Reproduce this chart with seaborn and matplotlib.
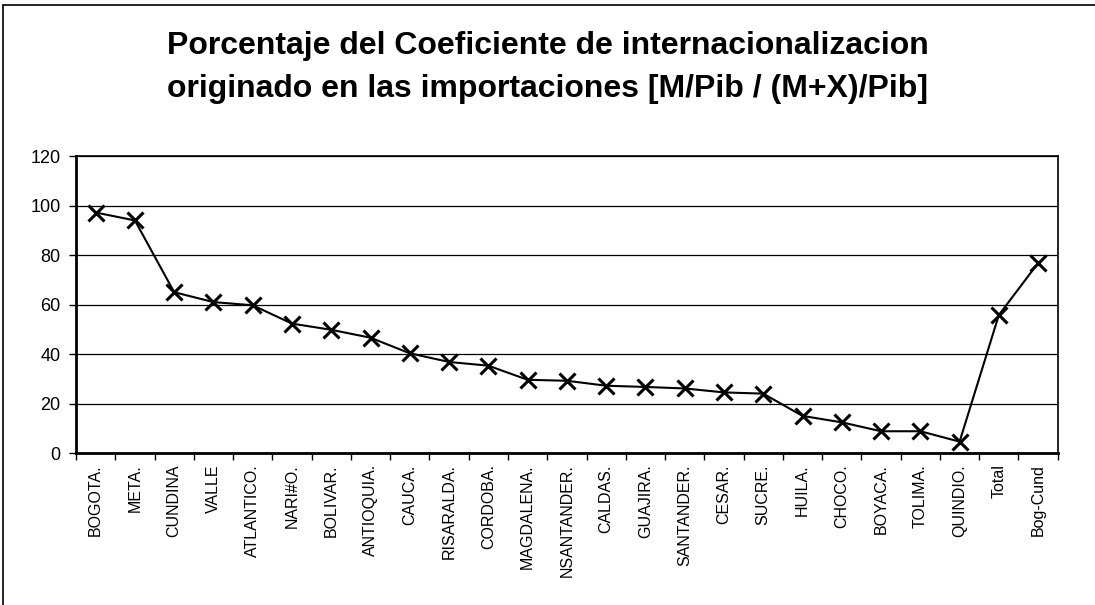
import pandas as pd
import matplotlib
matplotlib.use("Agg")
import matplotlib.pyplot as plt
from matplotlib.lines import Line2D
from matplotlib.ticker import FixedLocator
import seaborn as sns

# ── Data ──────────────────────────────────────────────────────────────────────
departamentos = ['BOGOTA.', 'META.', 'CUNDINA', 'VALLE', 'ATLANTICO.', 'NARI#O.',
                 'BOLIVAR.', 'ANTIOQUIA.', 'CAUCA.', 'RISARALDA.', 'CORDOBA.',
                 'MAGDALENA.', 'NSANTANDER.', 'CALDAS.', 'GUAJIRA.', 'SANTANDER.',
                 'CESAR.', 'SUCRE.', 'HUILA.', 'CHOCO.', 'BOYACA.', 'TOLIMA.',
                 'QUINDIO.', 'Total', 'Bog-Cund']
porcentaje = [97.2, 94.0, 65.0, 61.0, 59.7, 52.3, 49.8, 46.6, 40.3, 36.8, 35.3,
              29.6, 29.2, 27.2, 26.7, 26.1, 24.5, 24.0, 15.0, 12.4, 8.8, 8.8,
              4.6, 55.8, 76.8]
y_ticks = [0, 20, 40, 60, 80, 100, 120]

df = pd.DataFrame({'depto': departamentos, 'valor': porcentaje})

# ── Figure ────────────────────────────────────────────────────────────────────
sns.set_theme(style='white')
plt.rcParams['font.family'] = ['Liberation Sans', 'DejaVu Sans']
plt.rcParams['text.color'] = 'black'
plt.rcParams['xtick.color'] = 'black'
plt.rcParams['ytick.color'] = 'black'

fig = plt.figure(figsize=(10.95, 6.05), dpi=100)
ax = fig.add_axes([0.0694, 0.2512, 0.8966, 0.4908])

sns.lineplot(data=df, x='depto', y='valor', sort=False, color='black',
             linewidth=1.5, marker='x', markersize=11, markeredgewidth=2.2,
             markeredgecolor='black', ax=ax)

ax.set_xlim(-0.5, len(departamentos) - 0.5)
ax.set_ylim(0, 120)
ax.set_yticks(y_ticks)
ax.yaxis.grid(True, color='black', linewidth=0.9)
ax.set_axisbelow(True)
ax.set_xlabel('')
ax.set_ylabel('')

# category labels centred, tick marks between categories (Excel style)
ax.set_xticks(range(len(departamentos)))
ax.set_xticklabels(departamentos, rotation=90, fontsize=11.5)
ax.xaxis.set_minor_locator(FixedLocator([i - 0.5 for i in range(len(departamentos) + 1)]))
ax.tick_params(axis='x', which='major', length=0, pad=8)
ax.tick_params(axis='x', which='minor', bottom=True, length=5, width=1, color='black')
ax.tick_params(axis='y', left=True, length=5, width=1, color='black',
               labelsize=13, pad=6)

for side in ax.spines.values():
    side.set_color('black')
    side.set_linewidth(1.2)
ax.spines['bottom'].set_linewidth(2)
ax.spines['left'].set_linewidth(2)

fig.text(0.5, 0.924, 'Porcentaje del Coeficiente de internacionalizacion',
         ha='center', va='center', fontsize=23, fontweight='bold')
fig.text(0.5, 0.853, 'originado en las importaciones [M/Pib / (M+X)/Pib]',
         ha='center', va='center', fontsize=23, fontweight='bold')

# chart-area border
fig.add_artist(Line2D([0.003, 0.003], [0, 0.992], transform=fig.transFigure,
                      color='black', linewidth=1.2))
fig.add_artist(Line2D([0.003, 1.0], [0.992, 0.992], transform=fig.transFigure,
                      color='black', linewidth=1.2))

fig.savefig('out.png', dpi=100)
